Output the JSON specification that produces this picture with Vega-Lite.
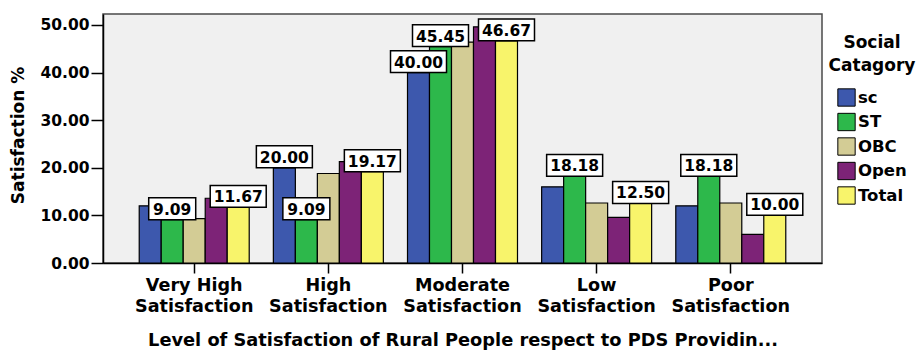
{
  "$schema": "https://vega.github.io/schema/vega-lite/v6.json",
  "width": 719,
  "height": 249,
  "autosize": {"type": "none"},
  "padding": {"left": 103, "top": 14, "right": 102, "bottom": 90},
  "background": "white",
  "config": {
    "font": "DejaVu Sans",
    "view": {"fill": "#f0f0f0", "stroke": "#4a4a4a", "strokeWidth": 1.5}
  },
  "data": {
    "values": [
      {"level": "Very High", "group": "sc", "value": 12, "shown": false},
      {"level": "Very High", "group": "ST", "value": 9.09, "shown": true},
      {"level": "Very High", "group": "OBC", "value": 9.3, "shown": false},
      {"level": "Very High", "group": "Open", "value": 13.6, "shown": false},
      {"level": "Very High", "group": "Total", "value": 11.67, "shown": true},
      {"level": "High", "group": "sc", "value": 20, "shown": true},
      {"level": "High", "group": "ST", "value": 9.09, "shown": true},
      {"level": "High", "group": "OBC", "value": 18.8, "shown": false},
      {"level": "High", "group": "Open", "value": 21.3, "shown": false},
      {"level": "High", "group": "Total", "value": 19.17, "shown": true},
      {"level": "Moderate", "group": "sc", "value": 40, "shown": true},
      {"level": "Moderate", "group": "ST", "value": 45.45, "shown": true},
      {"level": "Moderate", "group": "OBC", "value": 46.4, "shown": false},
      {"level": "Moderate", "group": "Open", "value": 49.6, "shown": false},
      {"level": "Moderate", "group": "Total", "value": 46.67, "shown": true},
      {"level": "Low", "group": "sc", "value": 16, "shown": false},
      {"level": "Low", "group": "ST", "value": 18.18, "shown": true},
      {"level": "Low", "group": "OBC", "value": 12.6, "shown": false},
      {"level": "Low", "group": "Open", "value": 9.6, "shown": false},
      {"level": "Low", "group": "Total", "value": 12.5, "shown": true},
      {"level": "Poor", "group": "sc", "value": 12, "shown": false},
      {"level": "Poor", "group": "ST", "value": 18.18, "shown": true},
      {"level": "Poor", "group": "OBC", "value": 12.6, "shown": false},
      {"level": "Poor", "group": "Open", "value": 6.0, "shown": false},
      {"level": "Poor", "group": "Total", "value": 10.0, "shown": true}
    ]
  },
  "encoding": {
    "x": {
      "field": "level",
      "type": "nominal",
      "sort": ["Very High", "High", "Moderate", "Low", "Poor"],
      "scale": {"paddingInner": 0.18, "paddingOuter": 0.27},
      "axis": {
        "labelExpr": "[datum.label, 'Satisfaction']",
        "labelAngle": 0,
        "labelFont": "DejaVu Sans",
        "labelFontSize": 17.6,
        "labelFontWeight": "bold",
        "labelColor": "black",
        "labelLineHeight": 21,
        "labelPadding": 3,
        "tickSize": 10,
        "tickColor": "black",
        "tickWidth": 1.5,
        "domainColor": "black",
        "domainWidth": 1.5,
        "title": "Level of Satisfaction of Rural People respect to PDS Providin...",
        "titleFontSize": 17.8,
        "titleFontWeight": "bold",
        "titleColor": "black",
        "titleBaseline": "middle",
        "titleY": 77
      }
    },
    "xOffset": {
      "field": "group",
      "type": "nominal",
      "sort": ["sc", "ST", "OBC", "Open", "Total"],
      "scale": {"paddingInner": 0, "paddingOuter": 0}
    },
    "y": {
      "field": "value",
      "type": "quantitative",
      "scale": {"domain": [0, 52.3], "nice": false},
      "axis": {
        "values": [0, 10, 20, 30, 40, 50],
        "format": ".2f",
        "grid": false,
        "labelFontSize": 15.5,
        "labelFontWeight": "bold",
        "labelColor": "black",
        "labelPadding": 2,
        "tickSize": 12,
        "tickColor": "black",
        "tickWidth": 1.5,
        "domainColor": "black",
        "domainWidth": 1.5,
        "title": "Satisfaction %",
        "titleFontSize": 17,
        "titleFontWeight": "bold",
        "titleColor": "black",
        "titleX": -85,
        "titleY": 121,
        "titleAlign": "center",
        "titleBaseline": "middle",
        "titleAngle": -90
      }
    }
  },
  "layer": [
    {
      "mark": {"type": "bar", "stroke": "black", "strokeWidth": 1.2},
      "encoding": {
        "color": {
          "field": "group",
          "type": "nominal",
          "sort": ["sc", "ST", "OBC", "Open", "Total"],
          "scale": {
            "domain": ["sc", "ST", "OBC", "Open", "Total"],
            "range": ["#3d58ad", "#2db84b", "#d3cc95", "#7d2377", "#f8f46b"]
          },
          "legend": {
            "orient": "none",
            "legendX": 726,
            "legendY": 21,
            "title": ["Social", "Catagory"],
            "titleFontSize": 17,
            "titleFontWeight": "bold",
            "titleColor": "black",
            "titleAlign": "center",
            "titleAnchor": "middle",
            "titleLineHeight": 23,
            "titlePadding": 13,
            "symbolType": "square",
            "symbolSize": 300,
            "symbolStrokeColor": "black",
            "symbolStrokeWidth": 1,
            "symbolOpacity": 1,
            "labelFontSize": 16.5,
            "labelFontWeight": "bold",
            "labelColor": "black",
            "labelOffset": 2,
            "rowPadding": 1.5
          }
        }
      }
    },
    {
      "transform": [{"filter": "datum.shown && datum.value < 10"}],
      "mark": {
        "type": "point",
        "shape": "M-1,-0.47H1V0.47H-1Z",
        "filled": true,
        "fill": "white",
        "stroke": "black",
        "strokeWidth": 1.5,
        "opacity": 1,
        "size": 2209,
        "yOffset": -11
      }
    },
    {
      "transform": [{"filter": "datum.shown && datum.value >= 10"}],
      "mark": {
        "type": "point",
        "shape": "M-1,-0.39H1V0.39H-1Z",
        "filled": true,
        "fill": "white",
        "stroke": "black",
        "strokeWidth": 1.5,
        "opacity": 1,
        "size": 3136,
        "yOffset": -11
      }
    },
    {
      "transform": [{"filter": "datum.shown"}],
      "mark": {
        "type": "text",
        "fontSize": 15.5,
        "fontWeight": "bold",
        "color": "black",
        "baseline": "middle",
        "yOffset": -10
      },
      "encoding": {
        "text": {"field": "value", "type": "quantitative", "format": ".2f"}
      }
    }
  ]
}
